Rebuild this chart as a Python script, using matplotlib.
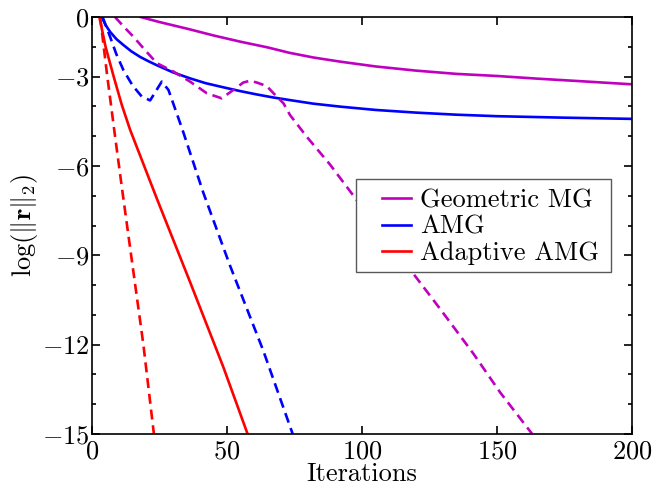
import matplotlib
matplotlib.use("Agg")
import matplotlib.pyplot as plt
from matplotlib.patches import Rectangle

plt.rcParams["mathtext.fontset"] = "cm"
plt.rcParams["font.family"] = "serif"
plt.rcParams["font.serif"] = ["cmr10", "DejaVu Serif"]
plt.rcParams["axes.formatter.use_mathtext"] = True
plt.rcParams["axes.unicode_minus"] = True

# Residual histories (log of residual norm vs. iteration)
gmg_x = [18, 25, 36, 45, 55, 65, 73, 82, 92, 105, 120, 135, 150, 165, 180, 200]
gmg_y = [-1.0, -1.17, -1.41, -1.62, -1.83, -2.02, -2.2, -2.36, -2.5, -2.66,
         -2.8, -2.91, -2.98, -3.07, -3.15, -3.26]

amg_x = [3.6, 5, 6.7, 9, 11.6, 14.5, 17.8, 21, 24, 30, 36.3, 42, 48.6, 55, 61,
         67, 73.3, 82, 92, 105, 120, 135, 150, 175, 200]
amg_y = [-1.0, -1.27, -1.5, -1.74, -1.94, -2.15, -2.34, -2.49, -2.62, -2.86,
         -3.06, -3.22, -3.36, -3.49, -3.6, -3.7, -3.79, -3.91, -4.01, -4.12,
         -4.21, -4.28, -4.33, -4.38, -4.42]

aamg_x = [2.7, 5, 8, 11, 14.1, 24, 36.3, 48.6, 57.6]
aamg_y = [-1.0, -2.0, -3.0, -3.95, -4.79, -7.1, -9.9, -12.75, -15.0]

# Accelerated (dashed) variants
gmg_acc_x = [8.5, 12, 15.3, 20, 24, 30.1, 36.3, 42.5, 48, 52.3, 56, 58.5, 61,
             64.7, 67.2, 70.9, 73.3, 79.5, 88.1, 96.8, 107, 118.4, 128.9,
             141.2, 151.1, 163]
gmg_acc_y = [-1.0, -1.35, -1.66, -2.15, -2.55, -2.83, -3.17, -3.56, -3.73,
             -3.45, -3.2, -3.14, -3.2, -3.32, -3.56, -3.9, -4.29, -5.02, -5.95,
             -7.0, -8.25, -9.55, -10.8, -12.3, -13.6, -15.0]

amg_acc_x = [3.9, 6.7, 9, 11.6, 15, 18.4, 21.5, 25.8, 28.3, 33.5, 41.2, 51.1,
             63.4, 74.3]
amg_acc_y = [-1.0, -1.67, -2.25, -2.78, -3.3, -3.67, -3.8, -3.17, -3.45, -4.79,
             -6.9, -9.35, -12.2, -15.0]

aamg_acc_x = [3, 5.5, 8.5, 11.6, 15.3, 19, 22.9]
aamg_acc_y = [-1.0, -2.9, -5.0, -7.1, -9.55, -12.0, -15.0]

labels = ["Geometric MG", "AMG", "Adaptive AMG"]
xticks = [0, 50, 100, 150, 200]
yticks = [-1, -3, -6, -9, -12, -15]
ytick_labels = ["0", "-3", "-6", "-9", "-12", "-15"]

fig = plt.figure(figsize=(6.53, 4.86), dpi=100)
ax = fig.add_axes([0.141, 0.107, 0.827, 0.858])

lw = 1.9
dash = (3.8, 2.2)
ax.plot(gmg_x, gmg_y, color="m", lw=lw, label=labels[0])
ax.plot(amg_x, amg_y, color="b", lw=lw, label=labels[1])
ax.plot(aamg_x, aamg_y, color="r", lw=lw, label=labels[2])
ax.plot(gmg_acc_x, gmg_acc_y, color="m", lw=lw, ls=(0, dash))
ax.plot(amg_acc_x, amg_acc_y, color="b", lw=lw, ls=(0, dash))
ax.plot(aamg_acc_x, aamg_acc_y, color="r", lw=lw, ls=(0, dash))

ax.set_xlim(0, 200)
ax.set_ylim(-15, -1)
ax.set_xticks(xticks)
ax.set_xticklabels([f"${t}$" for t in xticks])
ax.set_yticks(yticks)
ax.set_yticklabels([f"${t}$" for t in ytick_labels])
ax.set_yticks(range(-14, -1), minor=True)
ax.tick_params(axis="both", which="both", direction="in", top=True, right=True,
               labelsize=19, width=1.2)
ax.tick_params(which="major", length=6, pad=4)
ax.tick_params(which="minor", length=3)
ax.tick_params(axis="y", which="major", pad=2)
for s in ax.spines.values():
    s.set_linewidth(1.2)

ax.set_xlabel("Iterations", fontsize=19, labelpad=-1)
ax.set_ylabel(r"$\log(\|\mathbf{r}\|_2)$", fontsize=19, labelpad=1)

# Legend frame (wide box) with the entries placed inside it
frame = Rectangle((0.489, 0.3885), 0.472, 0.223, transform=ax.transAxes,
                  facecolor="white", edgecolor="0.35", lw=1.0, zorder=4.5)
ax.add_patch(frame)
leg = ax.legend(loc="upper left", bbox_to_anchor=(0.522, 0.607), fontsize=19,
                frameon=False, handlelength=1.1, handletextpad=0.35,
                labelspacing=0.1, borderpad=0.3, borderaxespad=0.0)
leg.set_zorder(5)

fig.savefig("out.png", dpi=100)
